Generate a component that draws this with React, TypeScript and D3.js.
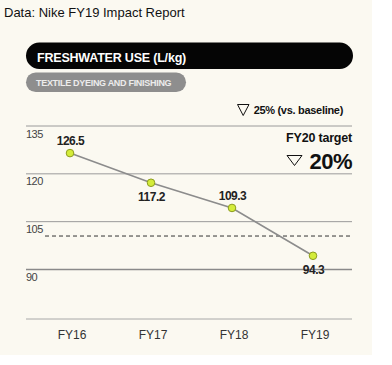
import React from "react";
import * as d3 from "d3";

const years = ["FY16", "FY17", "FY18", "FY19"];
const values = [126.5, 117.2, 109.3, 94.3];
const labelAbove = [true, false, true, false];
const yTicks = [135, 120, 105, 90];
const targetValue = 100.5;

const W = 392;
const H = 365;
const FONT = "'Liberation Sans', Arial, Helvetica, sans-serif";

export default function App() {
  const x = d3.scalePoint<string>().domain(years).range([70, 313]);
  const y = d3.scaleLinear().domain([90, 135]).range([269.5, 126]);
  const line = d3
    .line<number>()
    .x((_, i) => x(years[i]) as number)
    .y((d) => y(d));
  const gridX0 = 26;
  const gridX1 = 352;
  const baseY = 319;

  return (
    <div style={{ position: "absolute", left: 0, top: 0, width: W, height: H, background: "#fff" }}>
      <svg width={W} height={H} style={{ display: "block" }} fontFamily={FONT}>
        <rect x={0} y={0} width={372} height={355} fill="#fbf9f1" />
        <text x={4} y={17} fontSize={13} fill="#111">Data: Nike FY19 Impact Report</text>

        <rect x={26} y={42.5} width={327} height={26.5} rx={13.25} fill="#050505" />
        <text x={37} y={61.5} fontSize={12.5} fontWeight="bold" fill="#fff" letterSpacing={-0.2}>
          FRESHWATER USE (L/kg)
        </text>
        <rect x={26} y={72.5} width={160} height={19.5} rx={9.75} fill="#8e8e8e" />
        <text x={36} y={85.5} fontSize={9} fontWeight="bold" fill="#ececec" letterSpacing={-0.3}>
          TEXTILE DYEING AND FINISHING
        </text>

        {/* -25% vs baseline */}
        <path d="M237.5,104.5 L249,104.5 L243.2,115.5 Z" fill="none" stroke="#111" strokeWidth={1} />
        <text x={343} y={114} fontSize={11} fontWeight="bold" fill="#111" textAnchor="end" letterSpacing={-0.3}>
          25% (vs. baseline)
        </text>

        {/* gridlines */}
        {yTicks.map((t) => (
          <g key={t}>
            <line x1={gridX0} x2={gridX1} y1={y(t)} y2={y(t)} stroke={t === 90 ? "#8a8a8a" : "#9a9a9a"} strokeWidth={t === 90 ? 1.5 : 1} />
            <text x={26} y={y(t) + 11.5} fontSize={11} fill="#444" letterSpacing={-0.5}>
              {t}
            </text>
          </g>
        ))}
        <line x1={gridX0} x2={gridX1} y1={baseY} y2={baseY} stroke="#a8a8a8" strokeWidth={1} />

        {/* target dashed line */}
        <line x1={45} x2={350} y1={y(targetValue)} y2={y(targetValue)} stroke="#333" strokeWidth={1} strokeDasharray="4,3" />

        {/* FY20 target */}
        <text x={352} y={142} fontSize={12.5} fontWeight="bold" fill="#111" textAnchor="end" letterSpacing={-0.2}>
          FY20 target
        </text>
        <path d="M287,155.5 L302,155.5 L294.5,165.5 Z" fill="none" stroke="#111" strokeWidth={1} />
        <text x={352} y={169} fontSize={22} fontWeight="bold" fill="#111" textAnchor="end" letterSpacing={-0.5}>
          20%
        </text>

        {/* line */}
        <path d={line(values) || ""} fill="none" stroke="#8c8c8c" strokeWidth={1.6} />
        {values.map((v, i) => (
          <g key={years[i]}>
            <circle cx={x(years[i])} cy={y(v)} r={3.8} fill="#d4ec3a" stroke="#8c9c1e" strokeWidth={1} />
            <text
              x={(x(years[i]) as number) + 0.5}
              y={labelAbove[i] ? y(v) - 8 : y(v) + 18}
              fontSize={12}
              fontWeight="bold"
              fill="#222"
              textAnchor="middle"
              letterSpacing={-0.5}
            >
              {v.toFixed(1)}
            </text>
          </g>
        ))}

        {/* x labels */}
        {years.map((yr) => (
          <text key={yr} x={(x(yr) as number) + 2} y={338.5} fontSize={12} fill="#333" textAnchor="middle">
            {yr}
          </text>
        ))}
      </svg>
    </div>
  );
}
